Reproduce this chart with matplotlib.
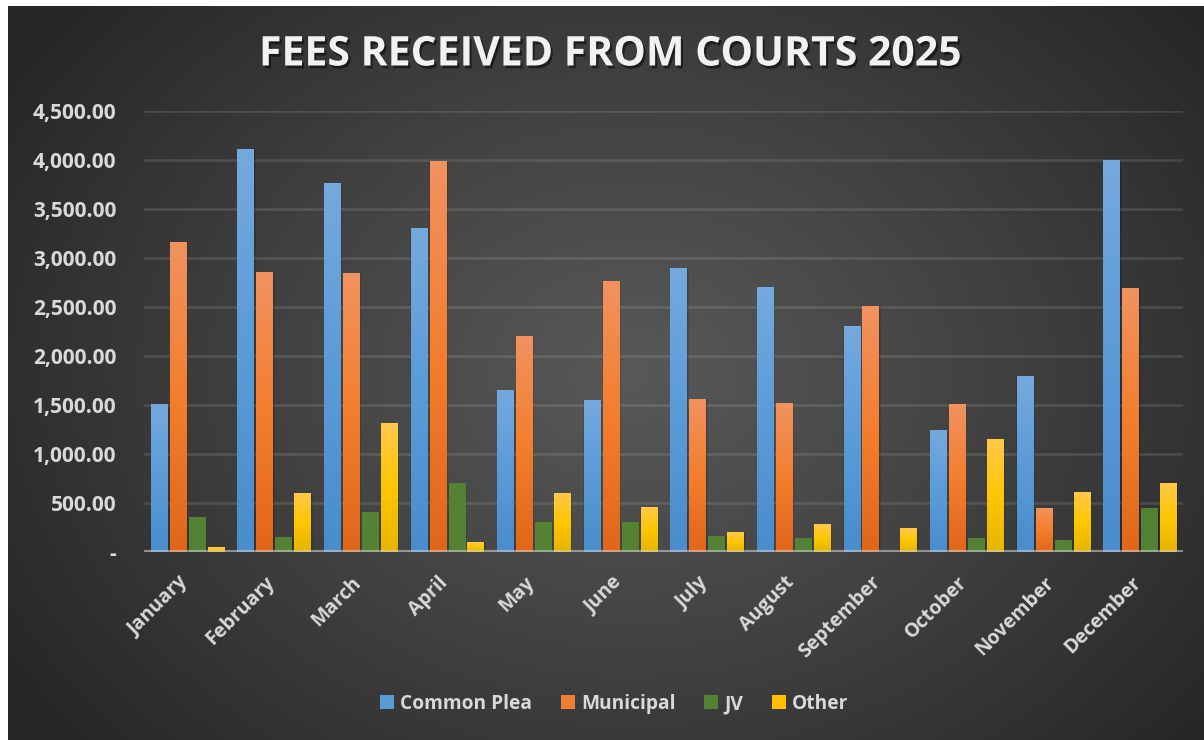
import numpy as np
import matplotlib
matplotlib.use("Agg")
import matplotlib.pyplot as plt
from matplotlib.patches import Patch
from matplotlib.colors import to_rgb
import matplotlib.patheffects as pe
from matplotlib.transforms import ScaledTranslation

months = ["January", "February", "March", "April", "May", "June", "July",
          "August", "September", "October", "November", "December"]
common_plea = [1510, 4112, 3765, 3296, 1653, 1541, 2888, 2694, 2306, 1235, 1786, 3990]
municipal = [3163, 2847, 2837, 3980, 2204, 2765, 1561, 1520, 2510, 1500, 439, 2684]
jv = [347, 150, 408, 694, 296, 296, 163, 133, 0, 133, 122, 439]
other = [51, 592, 1316, 102, 602, 459, 194, 276, 235, 1143, 612, 694]
series_names = ["Common Plea", "Municipal", "JV", "Other"]
yticks = [0, 500, 1000, 1500, 2000, 2500, 3000, 3500, 4000, 4500]

# gradient stops (top, mid, bottom)
grads = [
    ("#75a9de", "#5b9bd8", "#4a8dcc"),
    ("#f1925f", "#f47e2e", "#e1661a"),
    ("#548235", "#548235", "#548235"),
    ("#ffc94a", "#ffc600", "#e6b500"),
]
legend_cols = ["#5b9bd5", "#ed7d31", "#548235", "#ffc000"]

W, H = 1204, 740
fig = plt.figure(figsize=(W / 100, H / 100), dpi=100)
fig.patch.set_facecolor("white")

# background panel with radial gradient
bx0, by0 = 8, 6
bg = fig.add_axes([bx0 / W, 0, (W - bx0) / W, (H - by0) / H])
bg.set_axis_off()
ny, nx = 300, 480
yy, xx = np.mgrid[0:ny, 0:nx]
cx, cy = nx * 0.52, ny * 0.50
r = np.sqrt(((xx - cx) / (nx * 0.62)) ** 2 + ((yy - cy) / (ny * 0.78)) ** 2)
r = np.clip(r, 0, 1) ** 1.1
c0 = np.array(to_rgb("#585858"))
c1 = np.array(to_rgb("#262626"))
img = c0[None, None, :] * (1 - r[..., None]) + c1[None, None, :] * r[..., None]
bg.imshow(img, aspect="auto", extent=[0, 1, 0, 1], origin="upper")
bg.set_xlim(0, 1)
bg.set_ylim(0, 1)

ax = fig.add_axes([144 / W, 1 - 552 / H, (1183 - 144) / W, (552 - 111) / H])
ax.set_facecolor("none")

fontfam = ["Open Sans", "DejaVu Sans"]
txtc = "#d9d9d9"

x = np.arange(len(months))
bw = 0.185
step = 0.219
data = [common_plea, municipal, jv, other]

def grad_img(cols):
    t = np.linspace(0, 1, 64)[:, None]
    top, mid, bot = [np.array(to_rgb(c)) for c in cols]
    out = np.where(t < 0.5, top + (mid - top) * (t / 0.5), mid + (bot - mid) * ((t - 0.5) / 0.5))
    return out[:, None, :]

for i, vals in enumerate(data):
    off = (i - 1.5) * step
    # soft shadows
    ax.bar(x + off + 0.012, vals, width=bw + 0.03, color="black", alpha=0.10, zorder=1, linewidth=0)
    ax.bar(x + off + 0.008, vals, width=bw + 0.015, color="black", alpha=0.12, zorder=1, linewidth=0)
    bars = ax.bar(x + off, vals, width=bw, color=legend_cols[i], zorder=2, linewidth=0)
    g = grad_img(grads[i])
    for b in bars:
        h = b.get_height()
        if h <= 0:
            continue
        x0 = b.get_x()
        ax.imshow(g, extent=[x0, x0 + b.get_width(), 0, h], aspect="auto",
                  origin="upper", zorder=3, interpolation="bilinear")

ax.set_xlim(-0.5, len(months) - 0.5)
ax.set_ylim(0, 4500)
ax.set_aspect("auto")

for s in ax.spines.values():
    s.set_visible(False)
ax.set_yticks(yticks)
ax.set_yticklabels(["-" if v == 0 else f"{v:,.2f}" for v in yticks])
ax.yaxis.grid(True, color="white", alpha=0.12, linewidth=1.8, zorder=0)
ax.set_axisbelow(True)
ax.axhline(0, color="#d0d0d0", alpha=0.55, linewidth=3, zorder=6)
ax.tick_params(axis="both", length=0)
ax.tick_params(axis="y", pad=20)
ax.tick_params(axis="x", pad=4)
for lab in ax.get_yticklabels():
    lab.set_fontfamily(fontfam)
    lab.set_fontweight("bold")
    lab.set_fontsize(15)
    lab.set_color(txtc)

ax.set_xticks(x)
ax.set_xticklabels(months, rotation=45, ha="right", va="top", rotation_mode="anchor",
                   fontfamily=fontfam, fontweight="bold", fontsize=14, color=txtc)
shift = ScaledTranslation(-9 / 100, -15 / 100, fig.dpi_scale_trans)
for lab in ax.get_xticklabels():
    lab.set_transform(lab.get_transform() + shift)

fig.text(610 / W, 1 - 55 / H, "FEES RECEIVED FROM COURTS 2025", ha="center", va="center",
         fontfamily=fontfam, fontweight="bold", fontsize=29.5, color="#f2f2f2",
         path_effects=[pe.withSimplePatchShadow(offset=(1.5, -2), shadow_rgbFace="black", alpha=0.5)])

handles = [Patch(facecolor=c, edgecolor="none") for c in legend_cols]
leg = fig.legend(handles, series_names, loc="center", bbox_to_anchor=(614 / W, 1 - 704 / H),
                 ncol=4, frameon=False, handlelength=0.75, handleheight=0.75,
                 handletextpad=0.3, columnspacing=1.5,
                 prop={"family": fontfam, "weight": "bold", "size": 13.8})
for t in leg.get_texts():
    t.set_color(txtc)

fig.savefig("out.png", dpi=100, facecolor=fig.get_facecolor())
